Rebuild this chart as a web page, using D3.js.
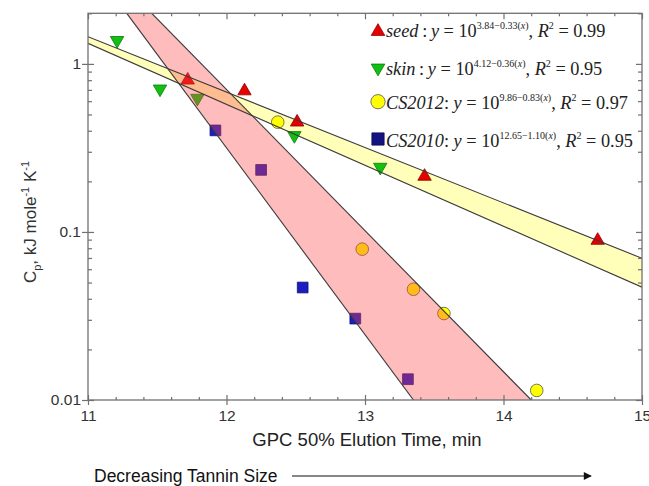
<!DOCTYPE html>
<html><head><meta charset="utf-8">
<script src="https://cdn.jsdelivr.net/npm/d3@7"></script>
<style>
html,body{margin:0;padding:0;background:#fff;}
svg{display:block;}
</style></head>
<body>
<svg id="chart" width="649" height="486"></svg>
<script>
// ---- data ----
const seedX = [11.72, 12.13, 12.51, 13.43, 14.68];
const seedY = [0.80, 0.69, 0.45, 0.214, 0.089];
const skinX = [11.21, 11.52, 11.79, 12.49, 13.11];
const skinY = [1.38, 0.71, 0.625, 0.375, 0.243];
const cs2012X = [12.37, 12.98, 13.35, 13.57, 14.24];
const cs2012Y = [0.45, 0.079, 0.0456, 0.0327, 0.0114];
const cs2010X = [11.92, 12.25, 12.55, 12.93, 13.31];
const cs2010Y = [0.402, 0.234, 0.0467, 0.0305, 0.0133];

// band edge lines (end points)
const yellowUpperX = [11, 15], yellowUpperY = [1.45, 0.0697];
const yellowLowerX = [11, 15], yellowLowerY = [1.325, 0.0469];
const pinkLeftX = [11.28, 13.35], pinkLeftY = [2, 0.01];
const pinkRightX = [11.46, 14.20], pinkRightY = [2, 0.01];

const xTicks = [11, 12, 13, 14, 15];
const xTickLabels = ["11", "12", "13", "14", "15"];
const yTicks = [1, 0.1, 0.01];
const yTickLabels = ["1", "0.1", "0.01"];

const legendNames = ["seed", "skin", "CS2012", "CS2010"];
const legendSep = ["\u2009:\u2009", "\u2009:\u2009", ": ", ": "];
const legendExp = ["3.84\u22120.33(", "4.12\u22120.36(", "9.86\u22120.83(", "12.65\u22121.10("];
const legendR2 = ["0.99", "0.95", "0.97", "0.95"];

// ---- drawing ----
const svg = d3.select("#chart");
const L = 88, R = 642, T = 13.3, B = 400;
const x = d3.scaleLinear().domain([11, 15]).range([L, R]);
const y = d3.scaleLog().domain([0.01, 2]).range([B, T]);

const axisColor = "#707070";
const plot = svg.append("g");
svg.append("defs").append("clipPath").attr("id", "clip")
  .append("rect").attr("x", L).attr("y", T).attr("width", R - L).attr("height", B - T);

const zip = (xs, ys) => xs.map((v, i) => [v, ys[i]]);
const yellowPoly = zip(yellowUpperX, yellowUpperY).concat(zip(yellowLowerX, yellowLowerY).reverse());
const pinkPoly = zip(pinkLeftX, pinkLeftY).concat(zip(pinkRightX, pinkRightY).reverse());
const line = d3.line().x(d => x(d[0])).y(d => y(d[1]));

const g = plot.append("g").attr("clip-path", "url(#clip)");
// yellow band
g.append("path").attr("d", line(yellowPoly) + "Z").attr("fill", "rgb(255,255,90)").attr("fill-opacity", 0.42);

// markers
const tri = d3.symbol().type(d3.symbolTriangle).size(78);
const circ = d3.symbol().type(d3.symbolCircle).size(125);
const sq = d3.symbol().type(d3.symbolSquare).size(115);
const mk = g.append("g");
function drawPts(xs, ys, sym, fill, stroke, rot) {
  mk.selectAll(null).data(zip(xs, ys)).enter().append("path")
    .attr("d", sym)
    .attr("transform", d => `translate(${x(d[0])},${y(d[1])}) rotate(${rot})`)
    .attr("fill", fill).attr("stroke", stroke).attr("stroke-width", 0.8);
}
drawPts(seedX, seedY, tri, "#e60000", "#900000", 0);
drawPts(skinX, skinY, tri, "#11c011", "#0a7a0a", 180);
drawPts(cs2012X, cs2012Y, circ, "#ffff00", "#555", 0);
drawPts(cs2010X, cs2010Y, sq, "#1c1cc0", "#101070", 0);

// pink band over markers
g.append("path").attr("d", line(pinkPoly) + "Z").attr("fill", "rgb(255,70,70)").attr("fill-opacity", 0.36);

// band edges
const edges = [[yellowUpperX, yellowUpperY], [yellowLowerX, yellowLowerY], [pinkLeftX, pinkLeftY], [pinkRightX, pinkRightY]];
edges.forEach(e => {
  g.append("path").attr("d", line(zip(e[0], e[1]))).attr("fill", "none")
    .attr("stroke", "#3a3a3a").attr("stroke-width", 1.1);
});

// ---- axes ----
const minorX = d3.range(11, 15.001, 0.2).filter(v => Math.abs(v - Math.round(v)) > 1e-6);
const minorY = [];
[0.01, 0.1, 1].forEach(d => { for (let k = 2; k <= 9; k++) { if (d * k <= 2.0001) minorY.push(d * k); } });

function styleAxis(sel) {
  sel.select(".domain").remove();
  sel.selectAll("line").attr("stroke", axisColor).attr("stroke-width", 1.2);
  sel.selectAll("text").attr("fill", "#333").attr("font-family", "Liberation Sans, Arial, sans-serif").attr("font-size", 15.5);
}
// bottom
const gb = svg.append("g").attr("transform", `translate(0,${B})`);
gb.call(d3.axisBottom(x).tickValues(xTicks).tickFormat((d, i) => xTickLabels[i]).tickSize(5).tickPadding(5));
gb.selectAll(".tick line").attr("y1", -5);
styleAxis(gb);
const gbm = svg.append("g").attr("transform", `translate(0,${B})`);
gbm.call(d3.axisBottom(x).tickValues(minorX).tickFormat("").tickSize(-3));
styleAxis(gbm);
// top
const gt = svg.append("g").attr("transform", `translate(0,${T})`);
gt.call(d3.axisTop(x).tickValues(xTicks).tickFormat("").tickSize(-6));
styleAxis(gt);
const gtm = svg.append("g").attr("transform", `translate(0,${T})`);
gtm.call(d3.axisTop(x).tickValues(minorX).tickFormat("").tickSize(-3));
styleAxis(gtm);
// left
const gl = svg.append("g").attr("transform", `translate(${L},0)`);
gl.call(d3.axisLeft(y).tickValues(yTicks).tickFormat((d, i) => yTickLabels[i]).tickSize(6).tickPadding(1));
gl.selectAll(".tick line").attr("x1", 6);
styleAxis(gl);
const glm = svg.append("g").attr("transform", `translate(${L},0)`);
glm.call(d3.axisLeft(y).tickValues(minorY).tickFormat("").tickSize(-4));
styleAxis(glm);
// right
const gr = svg.append("g").attr("transform", `translate(${R},0)`);
gr.call(d3.axisRight(y).tickValues(yTicks).tickFormat("").tickSize(-6));
styleAxis(gr);
const grm = svg.append("g").attr("transform", `translate(${R},0)`);
grm.call(d3.axisRight(y).tickValues(minorY).tickFormat("").tickSize(-4));
styleAxis(grm);
// frame
svg.append("rect").attr("x", L).attr("y", T).attr("width", R - L).attr("height", B - T)
  .attr("fill", "none").attr("stroke", axisColor).attr("stroke-width", 1.3);

// ---- axis titles ----
svg.append("text").attr("x", 367).attr("y", 446).attr("text-anchor", "middle")
  .attr("font-family", "Liberation Sans, Arial, sans-serif").attr("font-size", 18.5).attr("fill", "#222")
  .text("GPC 50% Elution Time, min");

svg.append("text").attr("x", 94).attr("y", 482)
  .attr("font-family", "Liberation Sans, Arial, sans-serif").attr("font-size", 17.5).attr("fill", "#111")
  .text("Decreasing Tannin Size");
svg.append("defs").append("marker").attr("id", "arr").attr("viewBox", "0 0 10 10")
  .attr("refX", 9).attr("refY", 5).attr("markerWidth", 10).attr("markerHeight", 8).attr("markerUnits", "userSpaceOnUse")
  .attr("orient", "auto").append("path").attr("d", "M0,0L10,5L0,10Z").attr("fill", "#111");
svg.append("line").attr("x1", 292).attr("x2", 591).attr("y1", 476).attr("y2", 476)
  .attr("stroke", "#111").attr("stroke-width", 1.2).attr("marker-end", "url(#arr)");

const yl = svg.append("text").attr("transform", "translate(36,222) rotate(-90)").attr("text-anchor", "middle")
  .attr("font-family", "Liberation Sans, Arial, sans-serif").attr("font-size", 17).attr("fill", "#333");
yl.append("tspan").text("C");
yl.append("tspan").attr("font-size", 11).attr("dy", 5).text("p");
yl.append("tspan").attr("dy", -5).text(", kJ mole");
yl.append("tspan").attr("font-size", 11).attr("dy", -7).text("-1");
yl.append("tspan").attr("dy", 7).text(" K");
yl.append("tspan").attr("font-size", 11).attr("dy", -7).text("-1");

// ---- legend ----
const legY = [37.3, 75, 108.5, 146.5];
const legSym = [
  {sym: d3.symbol().type(d3.symbolTriangle).size(80), fill: "#e60000", stroke: "#900000", rot: 0},
  {sym: d3.symbol().type(d3.symbolTriangle).size(80), fill: "#11c011", stroke: "#0a7a0a", rot: 180},
  {sym: d3.symbol().type(d3.symbolCircle).size(160), fill: "#ffff00", stroke: "#555", rot: 0},
  {sym: d3.symbol().type(d3.symbolSquare).size(150), fill: "#141480", stroke: "#0a0a50", rot: 0}
];
const legMarkY = [31.5, 68, 101.7, 139];
const lg = svg.append("g").attr("font-family", "Liberation Serif, Times New Roman, serif").attr("fill", "#222");
legendNames.forEach((nm, i) => {
  const s = legSym[i];
  lg.append("path").attr("d", s.sym).attr("transform", `translate(378,${legMarkY[i]}) rotate(${s.rot})`)
    .attr("fill", s.fill).attr("stroke", s.stroke).attr("stroke-width", 0.8);
  const t = lg.append("text").attr("x", 386).attr("y", legY[i]).attr("font-size", 18.3);
  t.append("tspan").attr("font-style", "italic").text(nm);
  t.append("tspan").text(legendSep[i]);
  t.append("tspan").attr("font-style", "italic").text("y");
  t.append("tspan").text(" = 10");
  t.append("tspan").attr("font-size", 10).attr("dy", -8).text(legendExp[i]);
  t.append("tspan").attr("font-size", 10).attr("font-style", "italic").text("x");
  t.append("tspan").attr("font-size", 10).text(")");
  t.append("tspan").attr("dy", 8).text(", ");
  t.append("tspan").attr("font-style", "italic").text("R");
  t.append("tspan").attr("font-size", 10).attr("dy", -8).text("2");
  t.append("tspan").attr("dy", 8).text(" = " + legendR2[i]);
});
</script>
</body></html>
